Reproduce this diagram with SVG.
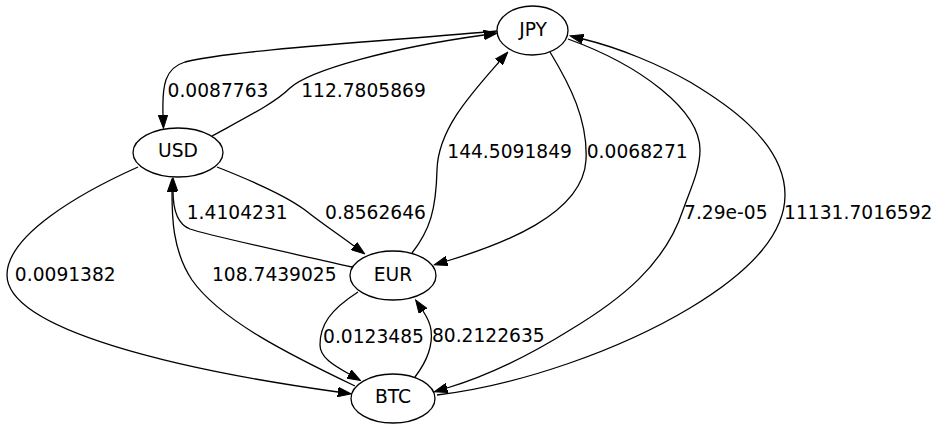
<svg xmlns="http://www.w3.org/2000/svg" width="940" height="429" viewBox="0 0 940 429">
<style>
.node ellipse{fill:#fff;stroke:#000;stroke-width:1.3}
text{font-family:"DejaVu Sans","Liberation Sans",sans-serif;font-size:18.67px;fill:#000;text-anchor:middle}
.edges path{fill:none;stroke:#000;stroke-width:1.3;marker-end:url(#arr)}
</style>
<defs>
<marker id="arr" markerUnits="userSpaceOnUse" viewBox="0 0 14 10" refX="0" refY="5" markerWidth="14" markerHeight="10" orient="auto">
<path d="M0,0.3 L13.3,5 L0,9.7 z" fill="#000" stroke="#000" stroke-width="1"/>
</marker>
</defs>
<rect width="940" height="429" fill="#fff"/>
<g id="edges" class="edges">
<path d="M212,136 C245,118 275,103 290,88 C310,70 390,48 484,35"/>
<path d="M497,31 C400,40 230,50 185,62 C165,68 162,85 163,115"/>
<path d="M217,167 C250,180 285,195 305,210 C320,222 335,232 354,246"/>
<path d="M352,267 C300,255 210,236 190,229 C177,224 173,210 173,191"/>
<path d="M138,167 C80,193 7,235 7,275 C7,330 180,370 338,392"/>
<path d="M355,386 C290,355 220,320 192,280 C172,250 172,215 172,192"/>
<path d="M412,253 C430,230 436,210 437,170 C438,130 470,95 499,62"/>
<path d="M550,52 C570,85 588,120 586,160 C583,215 500,245 447,261"/>
<path d="M358,292 C330,310 320,325 320,345 C320,358 335,366 349,374"/>
<path d="M415,377 C428,360 433,345 431,330 C430,322 427,317 423,311"/>
<path d="M568,39 C640,65 700,110 700,150 C700,170 690,190 683,210 C665,265 620,300 570,330 C530,355 490,375 447,388"/>
<path d="M437,395 C520,385 620,350 690,308 C750,272 785,235 785,195 C785,140 720,100 690,82 C660,65 620,48 583,39"/>
<g id="edge-labels">
<text x="218" y="97">0.0087763</text>
<text x="363.5" y="97">112.7805869</text>
<text x="509.6" y="158">144.5091849</text>
<text x="637.2" y="158">0.0068271</text>
<text x="237.2" y="219">1.4104231</text>
<text x="375.5" y="219">0.8562646</text>
<text x="725.8" y="219">7.29e-05</text>
<text x="858.3" y="219">11131.7016592</text>
<text x="65.3" y="281">0.0091382</text>
<text x="274.3" y="281">108.7439025</text>
<text x="373.5" y="343">0.0123485</text>
<text x="488.3" y="342">80.2122635</text>
</g>
</g>
<g id="JPY" class="node"><ellipse cx="532.5" cy="30.5" rx="35.5" ry="24.5"/><text x="533" y="36">JPY</text></g>
<g id="USD" class="node"><ellipse cx="178" cy="152.5" rx="45" ry="24.5"/><text x="178" y="157">USD</text></g>
<g id="EUR" class="node"><ellipse cx="393" cy="275.5" rx="43" ry="24.5"/><text x="393" y="281">EUR</text></g>
<g id="BTC" class="node"><ellipse cx="393" cy="398.5" rx="42" ry="24.5"/><text x="393" y="403">BTC</text></g>
</svg>
